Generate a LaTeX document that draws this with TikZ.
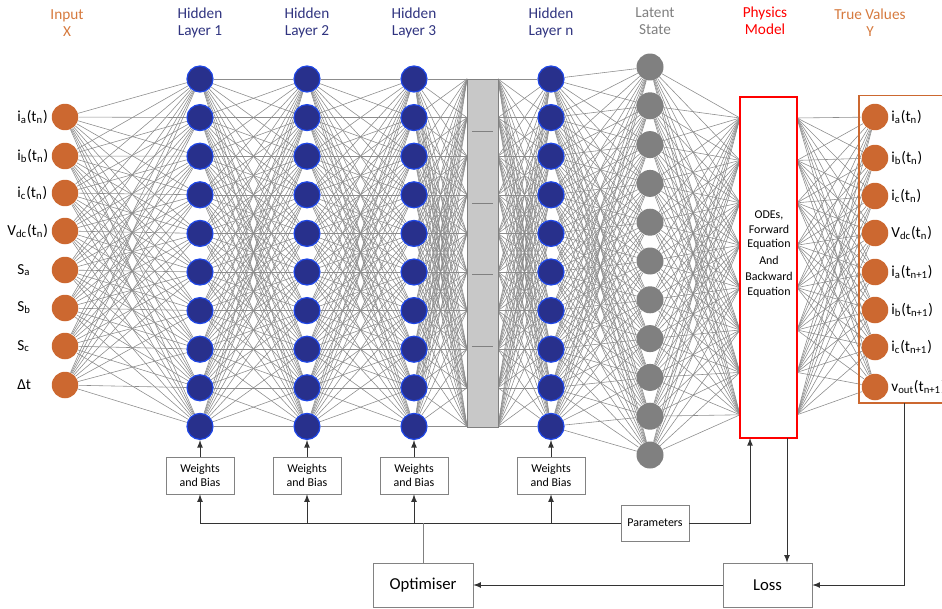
\documentclass[tikz,border=0pt]{standalone}
\usepackage{fontspec}
\setmainfont{Carlito}
\usetikzlibrary{arrows,backgrounds}
\definecolor{inorange}{RGB}{204,104,48}
\definecolor{hdrorange}{RGB}{214,122,62}
\definecolor{hdrblue}{RGB}{48,52,128}
\definecolor{hidblue}{RGB}{40,48,140}
\definecolor{hidline}{RGB}{30,70,230}
\definecolor{latgray}{RGB}{128,128,128}
\definecolor{wiregray}{RGB}{140,140,140}
\definecolor{bargray}{RGB}{200,200,200}
\definecolor{boxgray}{RGB}{130,130,130}
\tikzset{inp/.style={circle,fill=inorange,minimum size=0.53cm,inner sep=0pt},
  hid/.style={circle,draw=hidline,fill=hidblue,line width=0.7pt,minimum size=0.52cm,inner sep=0pt},
  lat/.style={circle,fill=latgray,minimum size=0.54cm,inner sep=0pt},
  gapbar/.style={draw=latgray,fill=bargray,line width=0.3pt,minimum width=0.62cm,minimum height=6.96cm,inner sep=0pt},
  phys/.style={draw=red,line width=1.1pt,fill=white,minimum width=1.14cm,minimum height=6.82cm,inner sep=0pt},
  outbox/.style={draw=inorange,line width=0.6pt,minimum width=2.02cm,minimum height=6.16cm,inner sep=0pt},
  wire/.style={draw=wiregray,line width=0.33pt},
  hdr/.style={font=\fontsize{8.7}{9.6}\selectfont,align=center},
  lab/.style={font=\fontsize{8.7}{10}\selectfont,anchor=west,inner sep=0pt},
  small/.style={font=\fontsize{6.8}{8.3}\selectfont,align=center},
  wbox/.style={small,draw=boxgray,fill=white,line width=0.4pt,minimum width=1.36cm,minimum height=0.74cm,inner sep=1pt},
  bigbox/.style={font=\fontsize{9.5}{11}\selectfont,draw=boxgray,fill=white,line width=0.4pt,minimum height=0.88cm,inner sep=1pt},
  ctrl/.style={draw=black!80,line width=0.5pt}}

\begin{document}
\begin{tikzpicture}[x=0.02cm,y=-0.02cm,>=latex]
    \useasboundingbox (0,0) rectangle (942,608);
    \clip (0,0) rectangle (942,608);
    % headers
    \node[hdr,text=hdrorange] (tx) at (67,23) {Input\\X};
    \node[hdr,text=hdrblue] (th1) at (200,23) {Hidden\\Layer 1};
    \node[hdr,text=hdrblue] (th2) at (307,23) {Hidden\\Layer 2};
    \node[hdr,text=hdrblue] (th3) at (414,23) {Hidden\\Layer 3};
    \node[hdr,text=hdrblue] (thn) at (551,23) {Hidden\\Layer n};
    \node[hdr,text=latgray] (tz) at (655,21) {Latent\\State};
    \node[hdr,text=red] (tp) at (765,21) {Physics\\Model};
    \node[hdr,text=hdrorange] (ty) at (870,23) {True Values\\Y};
    % input layer
    \foreach \i/\y in {1/117,2/156,3/193,4/231,5/270,6/308,7/346,8/385}
        \node[inp] (x\i) at (65,\y) {};
    \node[lab] (lx1) at (17,117) {i\textsubscript{a}(t\textsubscript{n})};
    \node[lab] (lx2) at (17,156) {i\textsubscript{b}(t\textsubscript{n})};
    \node[lab] (lx3) at (17,193) {i\textsubscript{c}(t\textsubscript{n})};
    \node[lab] (lx4) at (7,231) {V\textsubscript{dc}(t\textsubscript{n})};
    \node[lab] (lx5) at (17,270) {S\textsubscript{a}};
    \node[lab] (lx6) at (17,308) {S\textsubscript{b}};
    \node[lab] (lx7) at (17,346) {S\textsubscript{c}};
    \node[lab] (lx8) at (17,385) {Δt};
    % hidden layers
    \foreach \l/\x in {1/200,2/307,3/414,n/551}
        \foreach \i in {1,...,10}
            \node[hid] (h\l-\i) at (\x,{79+(\i-1)*38.6}) {};
    \node[gapbar] (gap) at (482.5,253) {};
    \foreach \i in {1,...,10} {
        \coordinate (gl\i) at (467,{79+(\i-1)*38.6});
        \coordinate (gr\i) at (498,{79+(\i-1)*38.6});
    }
    \foreach \y in {131,203,274,346}
        \draw[latgray,line width=0.4pt] (472,\y) -- (493,\y);
    % latent state
    \foreach \i in {1,...,11}
        \node[lat] (z\i) at (650,{67+(\i-1)*38.8}) {};
    % physics model
    \node[phys] (phys) at (768.5,267.5) {};
    \node[small] (odes) at (769,254) {ODEs,\\Forward\\Equation\\[1pt]And\\[1pt]Backward\\Equation};
    \foreach \i in {1,...,8} {
        \coordinate (pl\i) at (740,{118+(\i-1)*42.4});
        \coordinate (pr\i) at (797,{118+(\i-1)*42.4});
    }
    % true values
    \node[outbox] (ybox) at (909.5,249) {};
    \foreach \i/\y in {1/117,2/158,3/196,4/233,5/272,6/310,7/347,8/387}
        \node[inp] (y\i) at (875,\y) {};
    \node[lab] (ly1) at (891,117) {i\textsubscript{a}(t\textsubscript{n})};
    \node[lab] (ly2) at (891,158) {i\textsubscript{b}(t\textsubscript{n})};
    \node[lab] (ly3) at (891,196) {i\textsubscript{c}(t\textsubscript{n})};
    \node[lab] (ly4) at (891,233) {V\textsubscript{dc}(t\textsubscript{n})};
    \node[lab] (ly5) at (891,272) {i\textsubscript{a}(t\textsubscript{n+1})};
    \node[lab] (ly6) at (891,310) {i\textsubscript{b}(t\textsubscript{n+1})};
    \node[lab] (ly7) at (891,347) {i\textsubscript{c}(t\textsubscript{n+1})};
    \node[lab] (ly8) at (891,387) {v\textsubscript{out}(t\textsubscript{n+1})};
    % connections
    \begin{scope}[on background layer]
        \foreach \i in {1,...,8}
            \foreach \j in {1,...,10}
                \draw[wire] (x\i) -- (h1-\j);
        \foreach \a/\b in {1/2,2/3}
            \foreach \i in {1,...,10}
                \foreach \j in {1,...,10}
                    \draw[wire] (h\a-\i) -- (h\b-\j);
        \foreach \i in {1,...,10}
            \foreach \j in {1,...,10} {
                \draw[wire] (h3-\i) -- (gl\j);
                \draw[wire] (gr\i) -- (hn-\j);
            }
        \foreach \i in {1,...,10}
            \foreach \j in {1,...,11}
                \draw[wire] (hn-\i) -- (z\j);
        \foreach \i in {1,...,11}
            \foreach \j in {1,...,8}
                \draw[wire] (z\i) -- (pl\j);
        \foreach \i in {1,...,8}
            \foreach \j in {1,...,8}
                \draw[wire] (pr\i) -- (y\j);
    \end{scope}
    % training loop
    \foreach \l/\x in {1/200,2/307,3/414,n/551} {
        \node[wbox] (w\l) at (\x,475.5) {Weights\\and Bias};
        \coordinate (b\l) at (\x,523);
        \draw[ctrl,->] (w\l) -- (h\l-10);
        \draw[ctrl,->] (b\l) -- (w\l);
    }
    \node[wbox,minimum height=0.72cm] (par) at (655,523) {Parameters};
    \node[bigbox,minimum width=2cm] (opt) at (423,585) {Optimiser};
    \node[bigbox,minimum width=1.78cm] (loss) at (767.5,585) {Loss};
    \coordinate (physin) at (750,438);
    \coordinate (physout) at (787,438);
    \coordinate (yout) at (904,403);
    \coordinate (optup) at (423,523);
    \draw[ctrl] (b1) -- (par);
    \draw[ctrl,->] (par) -| (physin);
    \draw[draw=latgray,line width=0.5pt] (opt) -- (optup);
    \draw[ctrl,->] (physout) -- (physout |- loss.north);
    \draw[ctrl,->] (yout) |- (loss);
    \draw[ctrl,->] (loss) -- (opt);
\end{tikzpicture}
\end{document}
